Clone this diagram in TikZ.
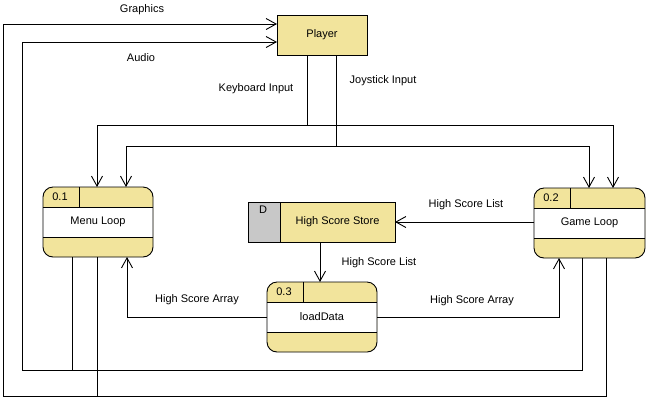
\documentclass[tikz,border=0pt]{standalone}
\usepackage{fontspec}
\setmainfont{Liberation Sans}
\usetikzlibrary{arrows.meta}
\definecolor{vpyellow}{RGB}{242,228,156}
\definecolor{vpgray}{RGB}{200,200,200}
\tikzset{
  every picture/.style={line width=0.9pt},
  lbl/.style={font=\fontsize{11}{13}\selectfont, inner sep=0pt},
  flow/.style={draw=black, -{Straight Barb[length=10pt,width=11pt,line width=0.9pt]}},
  wire/.style={draw=black},
  entbox/.style={draw, fill=vpyellow, minimum width=90pt, minimum height=40pt, outer sep=0pt, inner sep=0pt, font=\fontsize{11}{13}\selectfont},
  procshape/.style={fill=vpyellow, rounded corners=10pt, minimum width=#1, minimum height=70pt, outer sep=0pt, inner sep=0pt},
  storeshape/.style={fill=vpyellow, draw, minimum width=147pt, minimum height=40pt, outer sep=0pt, inner sep=0pt}
}
\newcommand\procbox[6]{%
  \node[procshape=#6] (#1) at (#2,#3) {};
  \fill[white] ([yshift=-20pt]#1.north west) rectangle ([yshift=20pt]#1.south east);
  \draw ([yshift=-20pt]#1.north west) -- ([yshift=-20pt]#1.north east);
  \draw ([yshift=20pt]#1.south west) -- ([yshift=20pt]#1.south east);
  \draw ([xshift=36pt]#1.north west) -- ([xshift=36pt,yshift=-20pt]#1.north west);
  \draw[rounded corners=10pt] (#1.north west) rectangle (#1.south east);
  \node[lbl] (#1-t) at (#1.center) {#5};
  \node[lbl] (#1-id) at ([xshift=17pt,yshift=-10pt]#1.north west) {#4};
}
\begin{document}
\begin{tikzpicture}[x=1pt,y=-1pt]
\useasboundingbox (0,0) rectangle (647,400);
\fill[white] (0,0) rectangle (647,400);

% Player
\node[entbox] (pl) at (322,35) {Player};

% processes
\procbox{ml}{98}{222}{0.1}{Menu Loop}{110pt}
\procbox{gl}{589.5}{223}{0.2}{Game Loop}{111pt}
\procbox{ld}{322}{317}{0.3}{loadData}{110pt}

% data store
\node[storeshape] (st) at (321.5,222) {};
\fill[vpgray] (st.north west) rectangle ([xshift=32pt]st.south west);
\draw ([xshift=32pt]st.north west) -- ([xshift=32pt]st.south west);
\draw (st.north west) rectangle (st.south east);
\node[lbl] (st-t) at ([xshift=16pt]st.center) {High Score Store};
\node[lbl] (st-id) at ([xshift=15pt,yshift=-8pt]st.north west) {D};

% Graphics
\draw[flow] ([xshift=16.5pt]gl.south) |- (3,396) |- ([yshift=11pt]pl.west);
\draw[wire] ([xshift=-1pt]ml.south) -- ++(0,139);
% Audio
\draw[flow] ([xshift=-7.5pt]gl.south) |- (22,370) |- ([yshift=-7pt]pl.west);
\draw[wire] ([xshift=-26pt]ml.south) -- ++(0,113);

% Keyboard Input
\draw[wire] ([xshift=-15pt]pl.south) -- ++(0,70) coordinate (kb);
\draw[flow] (kb) -| ([xshift=-1pt]ml.north);
\draw[flow] (kb) -| ([xshift=23.5pt]gl.north);
% Joystick Input
\draw[wire] ([xshift=14pt]pl.south) -- ++(0,91) coordinate (js);
\draw[flow] (js) -| ([xshift=28pt]ml.north);
\draw[flow] (js) -| ([xshift=-0.5pt]gl.north);

% High Score List
\draw[flow] (gl.west |- st.east) -- (st.east);
\draw[flow] ([xshift=-1.5pt]st.south) -- ([xshift=-1.5pt]st.south |- ld.north);

% High Score Array
\draw[flow] (ld.west) -| ([xshift=29pt]ml.south);
\draw[flow] (ld.east) -| ([xshift=-30.5pt]gl.south);

% labels
\node[lbl] (l-gr) at (142,10) {Graphics};
\node[lbl] (l-au) at (141,58) {Audio};
\node[lbl] (l-kb) at (256,89) {Keyboard Input};
\node[lbl] (l-js) at (383,81) {Joystick Input};
\node[lbl] (l-hl1) at (466,205) {High Score List};
\node[lbl] (l-hl2) at (379,263) {High Score List};
\node[lbl] (l-ha1) at (197,300) {High Score Array};
\node[lbl] (l-ha2) at (472,301) {High Score Array};
\end{tikzpicture}
\end{document}
